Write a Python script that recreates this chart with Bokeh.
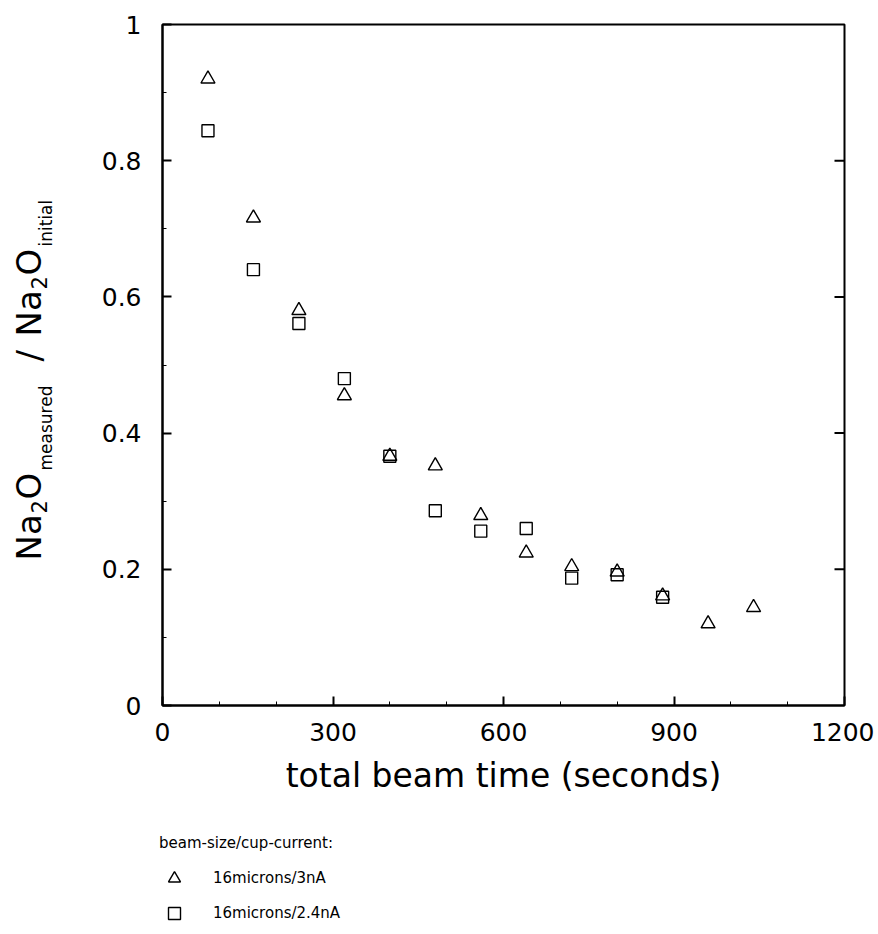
import math
from bokeh.plotting import figure
from bokeh.layouts import column, row
from bokeh.models import (Range1d, SingleIntervalTicker, LinearAxis, Label, Legend,
                          LegendItem, NumeralTickFormatter)
from bokeh.embed import file_html
from bokeh.resources import INLINE

# ---- data ----
time_tri = [80, 160, 240, 320, 400, 480, 560, 640, 720, 800, 880, 960, 1040]
ratio_tri = [0.920, 0.716, 0.580, 0.455, 0.366, 0.352, 0.279, 0.224, 0.204, 0.196, 0.161, 0.120, 0.144]
time_sq = [80, 160, 240, 320, 400, 480, 560, 640, 720, 800, 880]
ratio_sq = [0.844, 0.640, 0.561, 0.480, 0.366, 0.286, 0.256, 0.260, 0.187, 0.192, 0.159]

right_ticks = [0.2, 0.4, 0.6, 0.8]

series_tri_label = "16microns/3nA"
series_sq_label = "16microns/2.4nA"
legend_title = "beam-size/cup-current:"
x_title = "total beam time (seconds)"

FONT = "DejaVu Sans"
X_MIN, X_MAX = 0, 1200

TITLE_W = 78
MAIN_W = 796
MAIN_H = 805
LEG_H = 125
BORDER_TOP = 24
BORDER_BOTTOM = 100

TRI_STYLE = dict(marker="triangle", size=14, fill_color=None, line_color="black", line_width=1.4)
SQ_STYLE = dict(marker="square", size=12, fill_color=None, line_color="black", line_width=1.4)

# ---------------- main plot ----------------
p = figure(width=MAIN_W, height=MAIN_H, output_backend="svg", toolbar_location=None,
           x_range=Range1d(X_MIN, X_MAX), y_range=Range1d(0, 1),
           x_axis_type=None, y_axis_type=None,
           min_border_left=84, min_border_right=30, min_border_top=BORDER_TOP,
           min_border_bottom=BORDER_BOTTOM)
p.grid.visible = False
p.outline_line_color = "black"
p.outline_line_width = 2
p.background_fill_color = "white"
p.border_fill_color = "white"

xaxis = LinearAxis(ticker=SingleIntervalTicker(interval=300, num_minor_ticks=3),
                   axis_label=x_title)
yaxis = LinearAxis(ticker=SingleIntervalTicker(interval=0.2, num_minor_ticks=2),
                   formatter=NumeralTickFormatter(format="0.[0]"))
for ax in (xaxis, yaxis):
    ax.axis_line_color = "black"
    ax.axis_line_width = 2
    ax.major_tick_in = 9
    ax.major_tick_out = 0
    ax.minor_tick_in = 4
    ax.minor_tick_out = 0
    ax.major_tick_line_width = 2
    ax.minor_tick_line_width = 1
    ax.major_tick_line_color = "black"
    ax.minor_tick_line_color = "black"
    ax.major_label_text_font = FONT
    ax.major_label_text_font_size = "25px"
    ax.major_label_text_color = "black"
    ax.axis_label_text_font = FONT
    ax.axis_label_text_font_size = "33px"
    ax.axis_label_text_font_style = "normal"
    ax.axis_label_text_color = "black"
xaxis.major_label_standoff = 17
xaxis.axis_label_standoff = 12
yaxis.major_label_standoff = 21
p.add_layout(xaxis, "below")
p.add_layout(yaxis, "left")

# inward tick marks on the right edge of the frame (half of each dash is clipped)
p.scatter([X_MAX] * len(right_ticks), right_ticks, marker="dash", size=20,
          line_color="black", line_width=2)

p.scatter(time_tri, ratio_tri, **TRI_STYLE)
p.scatter(time_sq, ratio_sq, **SQ_STYLE)

# ---------------- y-axis title (rotated, with subscripts) ----------------
t = figure(width=TITLE_W, height=MAIN_H, output_backend="svg", toolbar_location=None,
           x_range=Range1d(0, 1), y_range=Range1d(0, 1), x_axis_type=None, y_axis_type=None,
           min_border_left=0, min_border_right=0, min_border_top=BORDER_TOP,
           min_border_bottom=BORDER_BOTTOM)
t.grid.visible = False
t.outline_line_color = None
main_size = "34px"
sub2_size = "21px"
sub_size = "17px"
y_title_parts = [
    ("Na", main_size, 28, 145),
    ("2", sub2_size, 38, 192),
    ("O", main_size, 28, 206),
    ("measured", sub_size, 45, 235),
    ("/", main_size, 28, 344),
    ("Na", main_size, 28, 369),
    ("2", sub2_size, 38, 416),
    ("O", main_size, 28, 430),
    ("initial", sub_size, 45, 459),
]
for txt, fs, sx, sy in y_title_parts:
    t.add_layout(Label(x=sx, y=sy, x_units="screen", y_units="screen", text=txt,
                       angle=math.pi / 2, text_align="left", text_baseline="alphabetic",
                       text_font=FONT, text_font_size=fs, text_color="black"))

# ---------------- legend area ----------------
# the same series, drawn in a range where they fall outside the (invisible) frame,
# only to provide legend glyphs
lg = figure(width=TITLE_W + MAIN_W, height=LEG_H, output_backend="svg", toolbar_location=None,
            x_range=Range1d(-2, -1), y_range=Range1d(-2, -1), x_axis_type=None, y_axis_type=None,
            min_border=0)
lg.grid.visible = False
lg.outline_line_color = None
k_tri = lg.scatter(time_tri, ratio_tri, **TRI_STYLE)
k_sq = lg.scatter(time_sq, ratio_sq, **SQ_STYLE)
legend = Legend(items=[LegendItem(label=series_tri_label, renderers=[k_tri]),
                       LegendItem(label=series_sq_label, renderers=[k_sq])],
                title=legend_title, location=(159, 2), orientation="vertical")
legend.title_text_font = FONT
legend.title_text_font_size = "15px"
legend.title_text_font_style = "normal"
legend.title_text_color = "black"
legend.title_standoff = 11
legend.label_text_font = FONT
legend.label_text_font_size = "15px"
legend.label_text_color = "black"
legend.glyph_width = 30
legend.glyph_height = 30
legend.label_height = 30
legend.label_standoff = 24
legend.spacing = 5
legend.padding = 0
legend.margin = 0
legend.border_line_alpha = 0
legend.background_fill_alpha = 0
lg.add_layout(legend)

layout = column(row(t, p, spacing=0), lg, spacing=0)
open("out.html", "w").write(file_html(layout, INLINE))
